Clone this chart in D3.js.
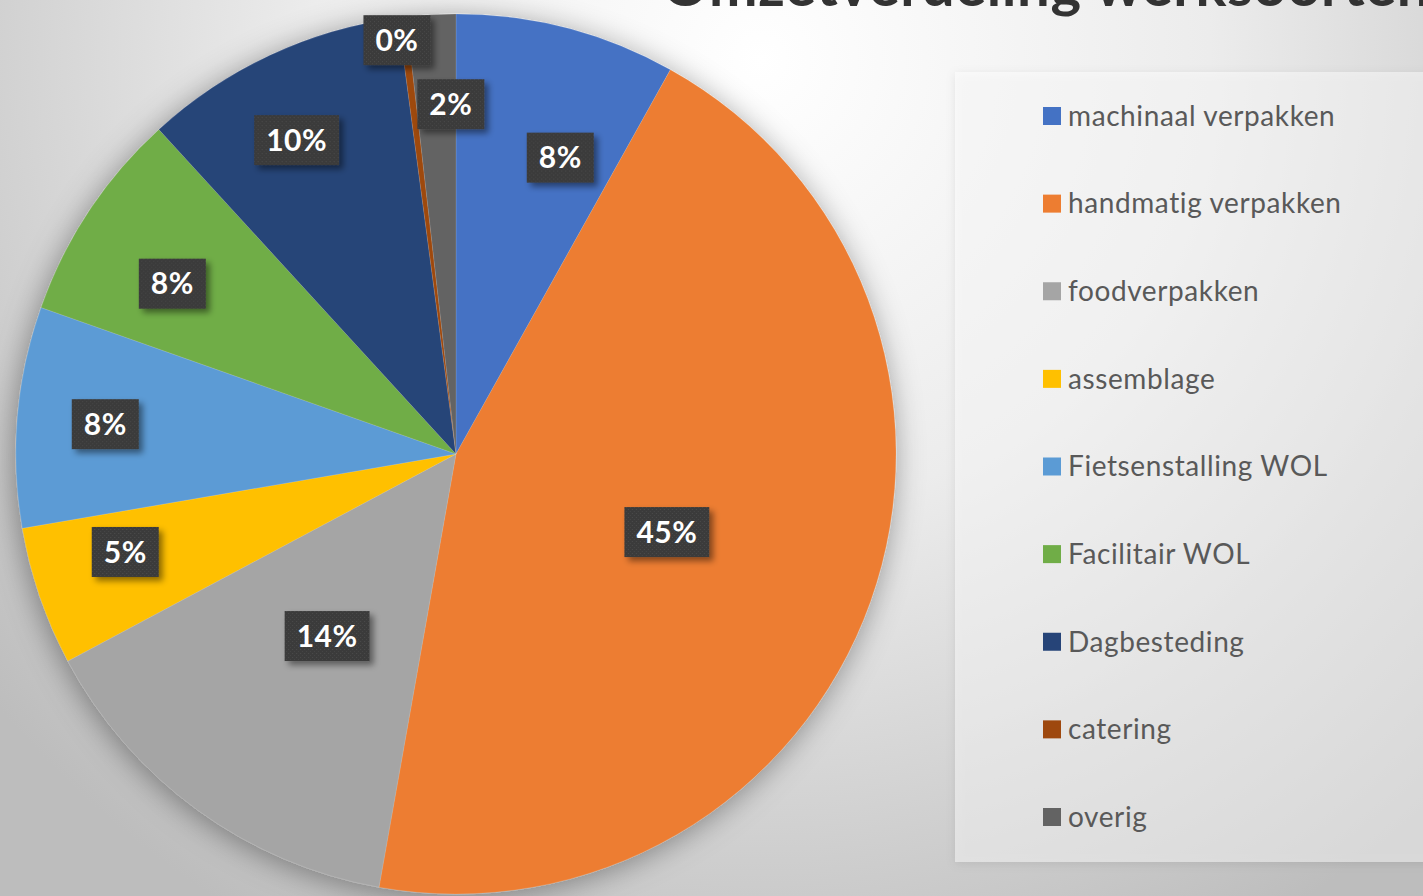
<!DOCTYPE html>
<html><head><meta charset="utf-8">
<script src="https://cdn.jsdelivr.net/npm/d3@7"></script>
<style>html,body{margin:0;padding:0;overflow:hidden;background:#ddd}</style>
</head><body><svg id="chart" width="1423" height="896"></svg>
<script>
const title = "Omzetverdeling werksoorten";
const categories = ["machinaal verpakken","handmatig verpakken","foodverpakken","assemblage","Fietsenstalling WOL","Facilitair WOL","Dagbesteding","catering","overig"];
const values = [8.1, 44.7, 14.4, 5.1, 8.1, 7.8, 9.7, 0.3, 1.8];
const colors = ["#4472C4","#ED7D31","#A5A5A5","#FFC000","#5B9BD5","#70AD47","#264478","#9E480E","#636363"];
const labelRadius = [0.714,0.511,0.507,0.784,0.80,0.752,0.80,0.95,0.795];
const labelAngleShift = [4.8,0.7,-0.7,2.4,0,-2.5,-1.9,-1.1,2.4];

const W = 1423, H = 896;
const svg = d3.select("#chart");
const defs = svg.append("defs");

const bg = defs.append("radialGradient").attr("id","bg").attr("gradientUnits","userSpaceOnUse")
  .attr("cx",760).attr("cy",60).attr("r",1000);
bg.append("stop").attr("offset",0).attr("stop-color","#ffffff");
bg.append("stop").attr("offset",0.45).attr("stop-color","#ececec");
bg.append("stop").attr("offset",1).attr("stop-color","#bdbdbd");

const pieShadow = defs.append("filter").attr("id","pieShadow").attr("x","-20%").attr("y","-20%").attr("width","140%").attr("height","140%");
pieShadow.append("feDropShadow").attr("dx",-2).attr("dy",4).attr("stdDeviation",15).attr("flood-color","#000").attr("flood-opacity",0.38);

const boxShadow = defs.append("filter").attr("id","boxShadow").attr("x","-30%").attr("y","-30%").attr("width","160%").attr("height","160%");
boxShadow.append("feDropShadow").attr("dx",4).attr("dy",4).attr("stdDeviation",3).attr("flood-color","#000").attr("flood-opacity",0.45);

const legShadow = defs.append("filter").attr("id","legShadow").attr("x","-10%").attr("y","-10%").attr("width","130%").attr("height","130%");
legShadow.append("feDropShadow").attr("dx",0).attr("dy",2).attr("stdDeviation",5).attr("flood-color","#000").attr("flood-opacity",0.18);

const pat = defs.append("pattern").attr("id","dots").attr("patternUnits","userSpaceOnUse").attr("width",4).attr("height",4);
pat.append("rect").attr("width",4).attr("height",4).attr("fill","#3a3a3a");
pat.append("rect").attr("x",1).attr("y",1).attr("width",1).attr("height",1).attr("fill","#4d4d4d");
pat.append("rect").attr("x",3).attr("y",3).attr("width",1).attr("height",1).attr("fill","#474747");

svg.append("rect").attr("width",W).attr("height",H).attr("fill","url(#bg)");

// title (mostly cut off at the top edge, as in the reference)
svg.append("text").attr("x",662).attr("y",6)
  .attr("font-family","Lato, 'Open Sans', sans-serif").attr("font-weight","bold")
  .attr("font-size",58).attr("letter-spacing",0.6).attr("fill","#333333").text(title);

// legend box
svg.append("rect").attr("x",955).attr("y",72).attr("width",500).attr("height",790)
  .attr("fill","#ffffff").attr("fill-opacity",0.45).attr("filter","url(#legShadow)");

const cx = 456, cy = 454, R = 440;
const pie = d3.pie().sort(null).value(d => d)(values);
const arc = d3.arc().innerRadius(0).outerRadius(R);
const total = d3.sum(values);

const g = svg.append("g").attr("transform",`translate(${cx},${cy})`);
g.append("g").attr("filter","url(#pieShadow)")
  .selectAll("path").data(pie).join("path")
  .attr("d", arc).attr("fill", (d,i) => colors[i])
  .attr("stroke","#ffffff").attr("stroke-opacity",0.2).attr("stroke-width",0.6);

const lg = g.append("g");
pie.forEach((d,i) => {
  const a = (d.startAngle + d.endAngle)/2 + labelAngleShift[i]*Math.PI/180;
  const r = R * labelRadius[i];
  const x = r*Math.sin(a), y = -r*Math.cos(a);
  const grp = lg.append("g").attr("transform",`translate(${x},${y})`);
  const rect = grp.append("rect");
  const t = grp.append("text").attr("text-anchor","middle").attr("dy","0.36em")
    .attr("font-family","Lato, 'Open Sans', sans-serif").attr("font-weight","bold")
    .attr("font-size",30).attr("letter-spacing",0.5).attr("fill","#ffffff")
    .text(Math.round(d.value/total*100) + "%");
  const w = t.node().getComputedTextLength() + 24, h = 50;
  rect.attr("x",-w/2).attr("y",-h/2).attr("width",w).attr("height",h)
    .attr("fill","url(#dots)").attr("filter","url(#boxShadow)");
});

// legend
const leg = svg.append("g");
const ly = d3.scalePoint().domain(categories).range([116, 817]);
categories.forEach((c,i) => {
  leg.append("rect").attr("x",1043).attr("y",ly(c)-9).attr("width",18).attr("height",18).attr("fill",colors[i]);
  leg.append("text").attr("x",1068).attr("y",ly(c)).attr("dy","0.35em")
    .attr("font-family","Lato, 'Open Sans', sans-serif").attr("font-size",28).attr("letter-spacing",0.6)
    .attr("fill","#595959").text(c);
});
</script></body></html>
